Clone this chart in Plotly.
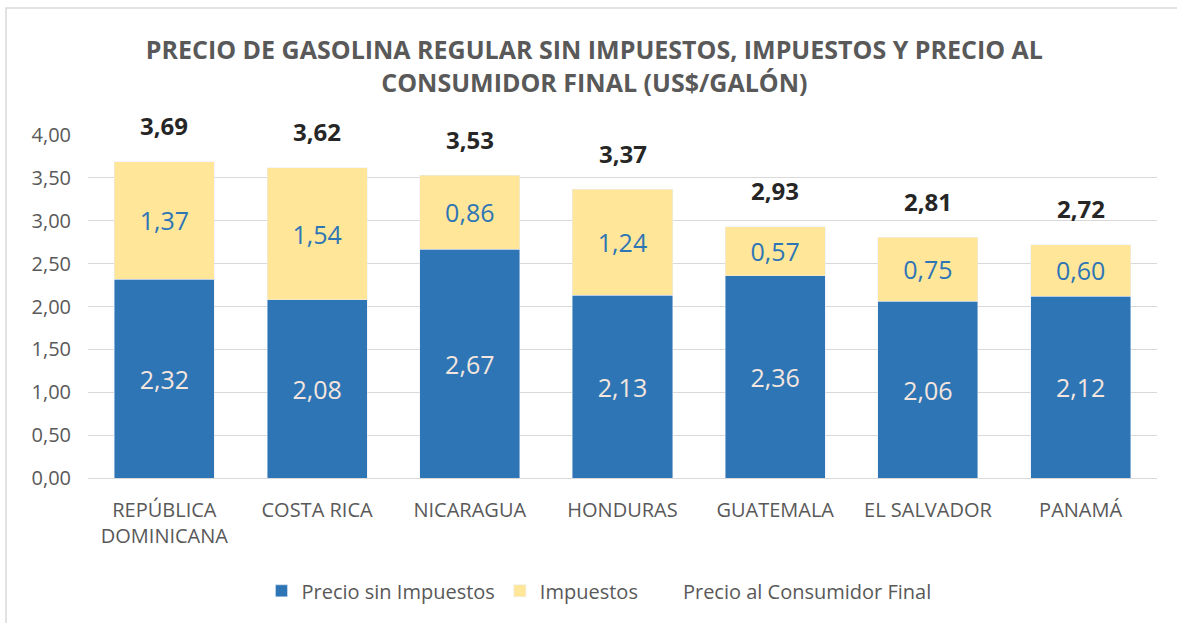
import plotly.graph_objects as go

categories = ["REPÚBLICA<br>DOMINICANA", "COSTA RICA", "NICARAGUA", "HONDURAS",
              "GUATEMALA", "EL SALVADOR", "PANAMÁ"]
precio_sin = [2.32, 2.08, 2.67, 2.13, 2.36, 2.06, 2.12]
impuestos = [1.37, 1.54, 0.86, 1.24, 0.57, 0.75, 0.60]
precio_final = [3.69, 3.62, 3.53, 3.37, 2.93, 2.81, 2.72]
y_ticks = [0, 0.5, 1, 1.5, 2, 2.5, 3, 3.5, 4]

def fmt(v):
    return f"{v:.2f}".replace(".", ",")

FONT = "Open Sans"
GREY = "#595959"

fig = go.Figure()
fig.add_trace(go.Bar(
    x=categories, y=precio_sin, name="Precio sin Impuestos",
    marker=dict(color="#2E75B6"),
    text=[fmt(v) for v in precio_sin], textposition="inside",
    insidetextanchor="middle",
    textfont=dict(color="#F4E6DE", size=25, family=FONT),
))
fig.add_trace(go.Bar(
    x=categories, y=impuestos, name="Impuestos",
    marker=dict(color="#FFE699"),
    text=[fmt(v) for v in impuestos], textposition="inside",
    insidetextanchor="middle",
    textfont=dict(color="#2E75B6", size=25, family=FONT),
))
fig.add_trace(go.Scatter(
    x=categories, y=precio_final, name="Precio al Consumidor Final",
    mode="lines", line=dict(color="rgba(0,0,0,0)", width=0),
    hoverinfo="y",
))

for c, v in zip(categories, precio_final):
    fig.add_annotation(x=c, y=v, text=f"<b>{fmt(v)}</b>", showarrow=False,
                       yshift=36, font=dict(size=24, color="#262626", family=FONT))

fig.add_shape(type="rect", xref="paper", yref="paper",
              x0=-0.0767, x1=1.2, y0=-1, y1=1.37,
              line=dict(color="#D9D9D9", width=1.5), layer="below")

fig.update_layout(
    barmode="stack",
    bargap=0.345,
    width=1177, height=623,
    paper_bgcolor="white", plot_bgcolor="white",
    margin=dict(l=88, r=20, t=135, b=145, autoexpand=False),
    font=dict(family=FONT, color=GREY),
    title=dict(
        text="<b>PRECIO DE GASOLINA REGULAR SIN IMPUESTOS, IMPUESTOS Y PRECIO AL<br>CONSUMIDOR FINAL (US$/GALÓN)</b>",
        x=0.505, xanchor="center", y=0.905, yanchor="middle",
        font=dict(size=25, color=GREY, family=FONT),
    ),
    xaxis=dict(tickfont=dict(size=20, color=GREY), showgrid=False,
               showline=True, linecolor="#D9D9D9", ticks="",
               automargin=False, ticklabelstandoff=14),
    yaxis=dict(range=[0, 4], tickvals=y_ticks, ticktext=[fmt(v) for v in y_ticks],
               tickfont=dict(size=20, color=GREY), gridcolor="#D9D9D9",
               zeroline=False, showline=False, ticks="",
               automargin=False, ticklabelstandoff=16),
    legend=dict(orientation="h", x=0.478, xanchor="center", y=-0.329, yanchor="middle",
                font=dict(size=20, color=GREY), traceorder="normal"),
    showlegend=True,
)

fig.write_html(
    "out.html",
    config={"displayModeBar": False},
    post_script="document.body.style.margin='0';document.body.style.overflow='hidden';",
)
